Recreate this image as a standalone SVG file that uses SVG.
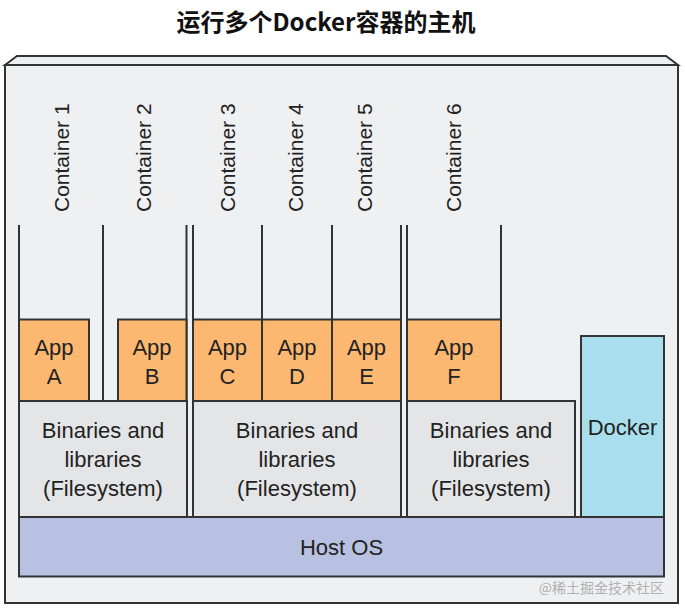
<svg xmlns="http://www.w3.org/2000/svg" width="685" height="613" viewBox="0 0 685 613">
<style>
.t{font-family:"Liberation Sans",Arial,sans-serif;font-size:22px;fill:#222;}
.v{font-size:21px;}
.c{text-anchor:middle;}
.ln{stroke:#333;stroke-width:2;fill:none;}
.app{fill:#fcb871;stroke:#333;stroke-width:2;}
.bin{fill:#e4e5e7;stroke:#333;stroke-width:2;}
</style>
<rect width="685" height="613" fill="#ffffff"/>
<text x="326" y="31" text-anchor="middle" style="font-family:'Noto Sans CJK SC',sans-serif;font-size:24px;font-weight:bold;fill:#111;">运行多个Docker容器的主机</text>
<g id="host-frame">
<polygon points="5,65 17,56 666,56 678,65" fill="#eeeff1" stroke="#333" stroke-width="2"/>
<rect x="5" y="65" width="673" height="538" fill="#eff0f2" stroke="#333" stroke-width="2"/>
</g>
<g id="connectors">
<line class="ln" x1="19" y1="225" x2="19" y2="401"/>
<line class="ln" x1="103" y1="225" x2="103" y2="401"/>
<line class="ln" x1="186.5" y1="225" x2="186.5" y2="401"/>
<line class="ln" x1="193" y1="225" x2="193" y2="401"/>
<line class="ln" x1="262" y1="225" x2="262" y2="401"/>
<line class="ln" x1="332" y1="225" x2="332" y2="401"/>
<line class="ln" x1="401" y1="225" x2="401" y2="401"/>
<line class="ln" x1="407" y1="225" x2="407" y2="401"/>
<line class="ln" x1="501" y1="225" x2="501" y2="401"/>
</g>
<g id="container1"><text class="t v" transform="translate(68.5,212) rotate(-90)">Container 1</text></g>
<g id="container2"><text class="t v" transform="translate(150.5,212) rotate(-90)">Container 2</text></g>
<g id="container3"><text class="t v" transform="translate(234.5,212) rotate(-90)">Container 3</text></g>
<g id="container4"><text class="t v" transform="translate(303,212) rotate(-90)">Container 4</text></g>
<g id="container5"><text class="t v" transform="translate(372,212) rotate(-90)">Container 5</text></g>
<g id="container6"><text class="t v" transform="translate(460.5,212) rotate(-90)">Container 6</text></g>
<g id="appA"><rect class="app" x="19" y="319.5" width="70" height="81.5"/><text class="t c" x="54" y="355">App</text><text class="t c" x="54" y="383.5">A</text></g>
<g id="appB"><rect class="app" x="118" y="319.5" width="68.5" height="81.5"/><text class="t c" x="152" y="355">App</text><text class="t c" x="152" y="383.5">B</text></g>
<g id="appC"><rect class="app" x="193" y="319.5" width="69" height="81.5"/><text class="t c" x="227.5" y="355">App</text><text class="t c" x="227.5" y="383.5">C</text></g>
<g id="appD"><rect class="app" x="262" y="319.5" width="70" height="81.5"/><text class="t c" x="297" y="355">App</text><text class="t c" x="297" y="383.5">D</text></g>
<g id="appE"><rect class="app" x="332" y="319.5" width="69" height="81.5"/><text class="t c" x="366.5" y="355">App</text><text class="t c" x="366.5" y="383.5">E</text></g>
<g id="appF"><rect class="app" x="407" y="319.5" width="94" height="81.5"/><text class="t c" x="454" y="355">App</text><text class="t c" x="454" y="383.5">F</text></g>
<g id="bin1"><rect class="bin" x="19" y="401" width="168" height="116"/><text class="t c" x="103" y="438">Binaries and</text><text class="t c" x="103" y="467">libraries</text><text class="t c" x="103" y="496">(Filesystem)</text></g>
<g id="bin2"><rect class="bin" x="193" y="401" width="208" height="116"/><text class="t c" x="297" y="438">Binaries and</text><text class="t c" x="297" y="467">libraries</text><text class="t c" x="297" y="496">(Filesystem)</text></g>
<g id="bin3"><rect class="bin" x="407" y="401" width="168" height="116"/><text class="t c" x="491" y="438">Binaries and</text><text class="t c" x="491" y="467">libraries</text><text class="t c" x="491" y="496">(Filesystem)</text></g>
<g id="docker"><rect x="581" y="336" width="83" height="181" fill="#a9dfec" stroke="#333" stroke-width="2"/><text class="t c" x="622.5" y="435">Docker</text></g>
<g id="hostos"><rect x="19" y="517" width="645" height="59.5" fill="#b8c1e1" stroke="#333" stroke-width="2"/><text class="t c" x="341.5" y="555">Host OS</text></g>
<text x="664" y="593" text-anchor="end" style="font-family:'Noto Sans CJK SC',sans-serif;font-size:14px;fill:#b0b0b0;">@稀土掘金技术社区</text>
</svg>
